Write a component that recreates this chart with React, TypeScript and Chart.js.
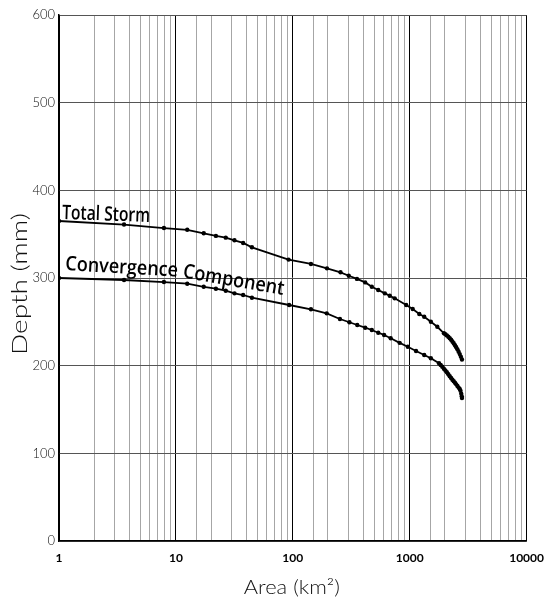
import React, { useEffect, useRef } from "react";
import { Chart, registerables } from "chart.js";

Chart.register(...registerables);

// Storm depth-area curves
const totalArea = [
  1, 3.6, 7.9, 12.5, 17.3, 22, 26.7, 31.7, 37.6, 44.7, 92, 143, 196, 256, 301, 354, 416, 474, 538, 613,
  675, 744, 933, 1061, 1208, 1331, 1517, 1722, 1963, 2020, 2080, 2140, 2200, 2260, 2320, 2380, 2440,
  2500, 2560, 2620, 2680, 2740, 2800,
];
const totalDepth = [
  365, 361, 357, 355, 351, 348, 346, 343, 340, 335, 321, 316, 311, 306.5, 302.6, 299, 295, 290, 286.3,
  282.5, 279.8, 276.8, 269.2, 264.6, 258.9, 255.8, 250.1, 244.4, 236.9, 235.8, 234.5, 233, 231.3, 229.5,
  227.5, 225.5, 223.3, 221, 218.6, 216, 213.2, 210.3, 207,
];

const convArea = [
  1, 3.6, 7.9, 12.5, 17.3, 22, 26.7, 31.7, 37.6, 44.7, 93, 143, 195, 253, 305, 356, 416, 474, 538, 604,
  688, 820, 963, 1133, 1331, 1517, 1782, 1840, 1900, 1960, 2020, 2080, 2140, 2200, 2260, 2320, 2380,
  2440, 2500, 2560, 2620, 2680, 2720, 2760, 2790, 2800,
];
const convDepth = [
  300, 297.7, 295.4, 293.5, 290, 287.8, 285.5, 282.5, 280.6, 277.5, 269.2, 264.3, 259.7, 253.2, 249.5,
  246.4, 243.3, 240.7, 237.6, 235, 231.2, 226, 221.6, 216.8, 212.2, 208.4, 202.7, 200.8, 198.7, 196.5,
  194.5, 192.5, 190.2, 188, 186, 184, 182.3, 180.5, 178.7, 176.8, 175, 173.3, 171.5, 168, 165, 163,
];

const seriesNames = ["Total Storm", "Convergence Component"];
const xTitle = "Area (km²)";
const yTitle = "Depth (mm)";
const xMin = 1;
const xMax = 10000;
const yMin = 0;
const yMax = 600;
const yStep = 100;

const isDecade = (v: number) => {
  const l = Math.log10(v);
  return Math.abs(l - Math.round(l)) < 1e-9;
};

// Draw text along a polyline, one glyph at a time, squeezed to the path length
function drawOnPath(
  ctx: CanvasRenderingContext2D,
  text: string,
  pts: { x: number; y: number }[],
  font: string
) {
  ctx.font = font;
  const full = ctx.measureText(text).width;
  const segs: { x0: number; y0: number; dx: number; dy: number; len: number; start: number }[] = [];
  let total = 0;
  for (let i = 0; i < pts.length - 1; i++) {
    const dx = pts[i + 1].x - pts[i].x;
    const dy = pts[i + 1].y - pts[i].y;
    const len = Math.hypot(dx, dy);
    segs.push({ x0: pts[i].x, y0: pts[i].y, dx, dy, len, start: total });
    total += len;
  }
  const sx = total / full;
  ctx.textAlign = "center";
  ctx.textBaseline = "alphabetic";
  for (let i = 0; i < text.length; i++) {
    const ch = text[i];
    if (ch === " ") continue;
    const pre = ctx.measureText(text.slice(0, i)).width;
    const cw = ctx.measureText(ch).width;
    const s = (pre + cw / 2) * sx;
    let seg = segs[segs.length - 1];
    for (const sg of segs) {
      if (s <= sg.start + sg.len) {
        seg = sg;
        break;
      }
    }
    const t = (s - seg.start) / seg.len;
    ctx.save();
    ctx.translate(seg.x0 + seg.dx * t, seg.y0 + seg.dy * t);
    ctx.rotate(Math.atan2(seg.dy, seg.dx));
    ctx.scale(sx, 1);
    ctx.fillText(ch, 0, 0);
    ctx.restore();
  }
}

function drawFitted(
  ctx: CanvasRenderingContext2D,
  text: string,
  cx: number,
  cy: number,
  width: number,
  font: string,
  angle: number
) {
  ctx.font = font;
  const w = ctx.measureText(text).width;
  ctx.save();
  ctx.translate(cx, cy);
  ctx.rotate(angle);
  ctx.scale(width / w, 1);
  ctx.textAlign = "center";
  ctx.textBaseline = "middle";
  ctx.fillText(text, 0, 0);
  ctx.restore();
}

const annotations = {
  id: "annotations",
  afterDatasetsDraw(chart: any) {
    const { ctx, scales, chartArea } = chart;
    const xs = scales.x;
    const ys = scales.y;
    const left = xs.getPixelForValue(xMin);
    ctx.save();
    ctx.fillStyle = "#000";
    drawOnPath(
      ctx,
      seriesNames[0],
      [
        { x: left + 3, y: ys.getPixelForValue(367.3) },
        { x: left + 91, y: ys.getPixelForValue(364) },
      ],
      "600 20px 'Open Sans'"
    );
    drawOnPath(
      ctx,
      seriesNames[1],
      [
        { x: left + 6, y: ys.getPixelForValue(309) },
        { x: left + 119, y: ys.getPixelForValue(301.6) },
        { x: left + 224, y: ys.getPixelForValue(280.6) },
      ],
      "600 20px 'Open Sans'"
    );
    // axis titles
    ctx.fillStyle = "#111";
    drawFitted(ctx, yTitle, 20, (chartArea.top + chartArea.bottom) / 2 + 6, 142, "300 21px Lato", -Math.PI / 2);
    drawFitted(ctx, xTitle, (chartArea.left + chartArea.right) / 2 - 1, 588, 96, "300 20px Lato", 0);
    ctx.restore();
  },
};

export default function App() {
  const ref = useRef<HTMLCanvasElement>(null);

  useEffect(() => {
    const line = {
      showLine: true,
      borderColor: "#000",
      borderWidth: 1.8,
      pointRadius: 2.2,
      pointBackgroundColor: "#000",
      pointBorderColor: "#000",
      pointBorderWidth: 0,
      tension: 0,
    };
    const chart = new Chart(ref.current!, {
      type: "scatter",
      data: {
        datasets: [
          { ...line, label: seriesNames[0], data: totalArea.map((x, i) => ({ x, y: totalDepth[i] })) },
          { ...line, label: seriesNames[1], data: convArea.map((x, i) => ({ x, y: convDepth[i] })) },
        ],
      },
      options: {
        responsive: false,
        animation: false,
        layout: { padding: { top: 15, right: 20, left: 0, bottom: 0 } },
        plugins: { legend: { display: false }, tooltip: { enabled: false } },
        scales: {
          x: {
            type: "logarithmic",
            min: xMin,
            max: xMax,
            afterFit: (s: any) => {
              s.height = 60;
            },
            border: { display: true, color: "#000", width: 1.5 },
            grid: {
              drawTicks: false,
              color: (c: any) => (c.tick && isDecade(c.tick.value) ? "#000" : "#a6a6a6"),
              lineWidth: 1,
            },
            ticks: {
              autoSkip: false,
              maxRotation: 0,
              padding: 10,
              color: "#000",
              font: { family: "Lato", size: 12, weight: "bold" },
              callback: (v: any) => (isDecade(Number(v)) ? String(Number(v)) : ""),
            },
          },
          y: {
            min: yMin,
            max: yMax,
            afterFit: (s: any) => {
              s.width = 59;
            },
            border: { display: true, color: "#000", width: 1.5 },
            grid: { drawTicks: false, color: "#555", lineWidth: 1 },
            ticks: {
              stepSize: yStep,
              padding: 4,
              color: "#111",
              font: { family: "Lato", size: 13, weight: "300" },
            },
          },
        },
      },
      plugins: [annotations],
    } as any);
    return () => chart.destroy();
  }, []);

  return (
    <div style={{ position: "fixed", left: 0, top: 0, width: 554, height: 601, background: "#fff" }}>
      <canvas ref={ref} width={554} height={601} style={{ display: "block", width: 554, height: 601 }} />
    </div>
  );
}
